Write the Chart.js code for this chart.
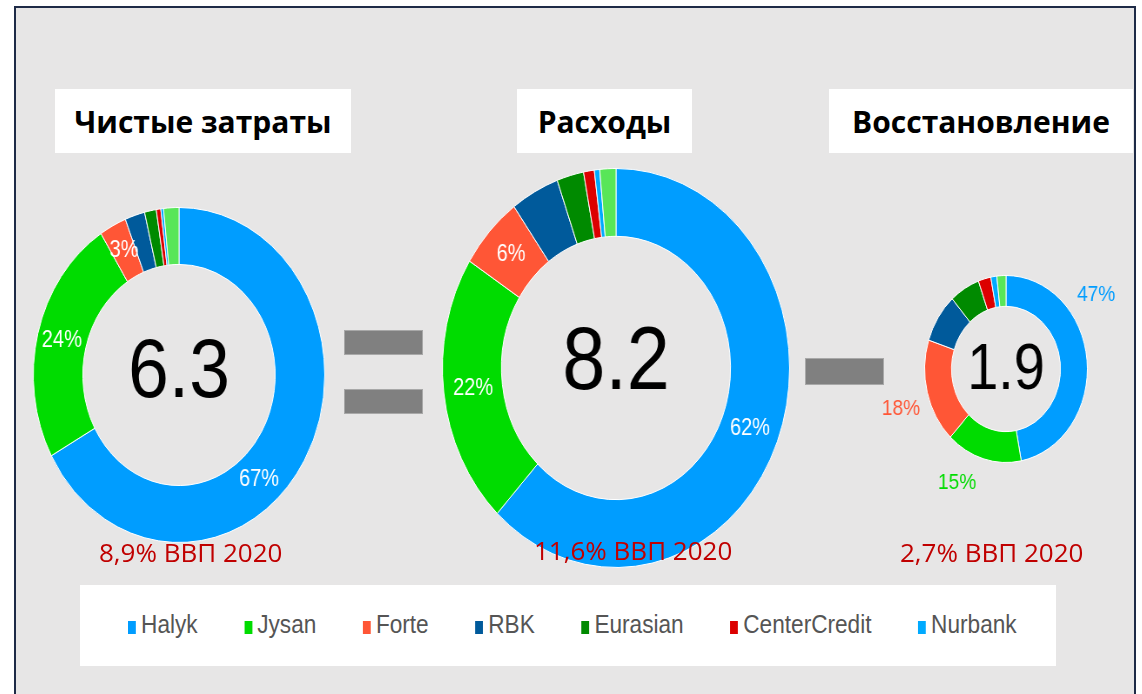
<!DOCTYPE html>
<html><head><meta charset="utf-8">
<script src="https://cdn.jsdelivr.net/npm/chart.js@4.4.1/dist/chart.umd.min.js"></script>
<style>
html,body{margin:0;padding:0;background:#fff;width:1142px;height:694px;overflow:hidden;}
#frame{position:absolute;left:14px;top:6px;width:1122px;height:720px;box-sizing:border-box;background:#e7e6e6;border:2px solid #1e2b47;}
.title{position:absolute;background:#fff;font-family:"Open Sans",sans-serif;font-weight:700;font-size:30px;color:#000;display:flex;align-items:center;justify-content:center;height:64px;top:89px;}
.wrap{position:absolute;transform:scaleX(0.87);transform-origin:50% 50%;}
.gdp{position:absolute;font-family:"Open Sans",sans-serif;font-size:26px;color:#c00000;white-space:nowrap;top:535px;line-height:34px;}
.bar{position:absolute;background:#808080;box-shadow:0 0 0 1px #a8a8a8;}
#legend{position:absolute;left:80px;top:585px;width:976px;height:81px;background:#fff;}
#legItems{position:absolute;left:48px;top:25px;display:flex;transform:scaleX(0.87);transform-origin:0 0;white-space:nowrap;}
.li{display:flex;align-items:flex-end;margin-right:53.5px;font-family:"Liberation Sans",Arial,sans-serif;font-size:26px;color:#555;line-height:29px;}
.mk{width:9px;height:13px;margin-right:6px;margin-bottom:5px;}
</style></head>
<body>
<div id="frame"></div>
<div class="title" style="left:55px;width:296px;">Чистые затраты</div>
<div class="title" style="left:517px;width:175px;">Расходы</div>
<div class="title" style="left:829px;width:304px;">Восстановление</div>

<div class="wrap" style="left:-1px;top:194.5px;width:360px;height:360px;"><canvas id="c1" width="360" height="360"></canvas></div>
<div class="wrap" style="left:406px;top:157.5px;width:420px;height:420px;"><canvas id="c2" width="420" height="420"></canvas></div>
<div class="wrap" style="left:855.5px;top:218.5px;width:300px;height:300px;"><canvas id="c3" width="300" height="300"></canvas></div>

<div class="bar" style="left:345px;top:331px;width:77px;height:23px;"></div>
<div class="bar" style="left:345px;top:390px;width:77px;height:23px;"></div>
<div class="bar" style="left:806px;top:359px;width:77px;height:25px;"></div>

<div class="gdp" id="g1" style="left:99px;"></div>
<div class="gdp" id="g2" style="left:534px;top:533px;"></div>
<div class="gdp" id="g3" style="left:900px;"></div>

<div id="legend"><div id="legItems"></div></div>

<script>
// ---- data ----
const banks = ['Halyk','Jysan','Forte','RBK','Eurasian','CenterCredit','Nurbank','Прочие'];
const bankColors = ['#009dff','#00dc00','#ff5636','#005a9b','#008a00','#dc0000','#00aaff','#58e658'];
const netCosts   = [67, 24, 3, 2.2, 1.3, 0.5, 0.3, 1.7];   // Чистые затраты
const expenses   = [62, 22, 6, 4.5, 2.5, 1.0, 0.5, 1.5];   // Расходы
const recovery   = [47, 15, 18, 8.5, 6, 2.5, 1.2, 1.8];    // Восстановление
const totals     = ['6.3', '8.2', '1.9'];
const gdpShares  = ['8,9% ВВП 2020', '11,6% ВВП 2020', '2,7% ВВП 2020'];
const legendCount = 7;

// ---- plugin for labels ----
const donutText = {
  id: 'donutText',
  afterDatasetsDraw(chart, args, o) {
    const ctx = chart.ctx;
    const meta = chart.getDatasetMeta(0);
    const ds = chart.data.datasets[0];
    ctx.save();
    ctx.textAlign = 'center';
    ctx.textBaseline = 'middle';
    ctx.font = o.labelFont;
    meta.data.forEach((arc, i) => {
      if (i >= o.labelCount) return;
      const p = arc.getProps(['x','y','startAngle','endAngle','innerRadius','outerRadius'], true);
      const shift = ((o.angleShift && o.angleShift[i]) || 0) * Math.PI / 180;
      const mid = (p.startAngle + p.endAngle) / 2 + shift;
      const r = o.outside ? p.outerRadius * o.labelRadius : (p.innerRadius + p.outerRadius) / 2;
      ctx.fillStyle = o.outside ? ds.backgroundColor[i] : '#ffffff';
      ctx.fillText(Math.round(ds.data[i]) + '%', p.x + Math.cos(mid) * r, p.y + Math.sin(mid) * r);
    });
    const a = meta.data[0];
    ctx.fillStyle = '#000';
    ctx.font = o.centerFont;
    ctx.fillText(o.centerText, a.x, a.y + o.centerDy);
    ctx.restore();
  }
};

function makeDonut(id, values, total, radius, cutout, labelOpts) {
  return new Chart(document.getElementById(id), {
    type: 'doughnut',
    data: { labels: banks, datasets: [{ data: values, backgroundColor: bankColors, borderColor: '#ffffff', borderWidth: 1 }] },
    options: {
      responsive: false,
      animation: false,
      radius: radius,
      cutout: cutout,
      layout: { padding: 0 },
      plugins: {
        legend: { display: false },
        tooltip: { enabled: false },
        donutText: Object.assign({ centerText: total }, labelOpts)
      }
    },
    plugins: [donutText]
  });
}

const lblFont = '23px "Liberation Sans", Arial, sans-serif';
makeDonut('c1', netCosts, totals[0], 167.5, '66%', { labelCount: 3, outside: false, angleShift: [18, 0, 0], labelFont: lblFont, centerFont: '84px "Liberation Sans", Arial, sans-serif', centerDy: -1 });
makeDonut('c2', expenses, totals[1], 199.5, '66%', { labelCount: 3, outside: false, labelFont: lblFont, centerFont: '89px "Liberation Sans", Arial, sans-serif', centerDy: -4 });
makeDonut('c3', recovery, totals[2], 93.5, '67%', { labelCount: 3, outside: true, labelRadius: 1.36, angleShift: [-30, 10, -4], labelFont: '22px "Liberation Sans", Arial, sans-serif', centerFont: '64px "Liberation Sans", Arial, sans-serif', centerDy: 2 });

['g1','g2','g3'].forEach((id, i) => { document.getElementById(id).textContent = gdpShares[i]; });

const li = document.getElementById('legItems');
banks.slice(0, legendCount).forEach((b, i) => {
  const d = document.createElement('div'); d.className = 'li';
  const m = document.createElement('span'); m.className = 'mk'; m.style.background = bankColors[i];
  const t = document.createElement('span'); t.textContent = b;
  d.appendChild(m); d.appendChild(t); li.appendChild(d);
});
</script>
</body></html>
